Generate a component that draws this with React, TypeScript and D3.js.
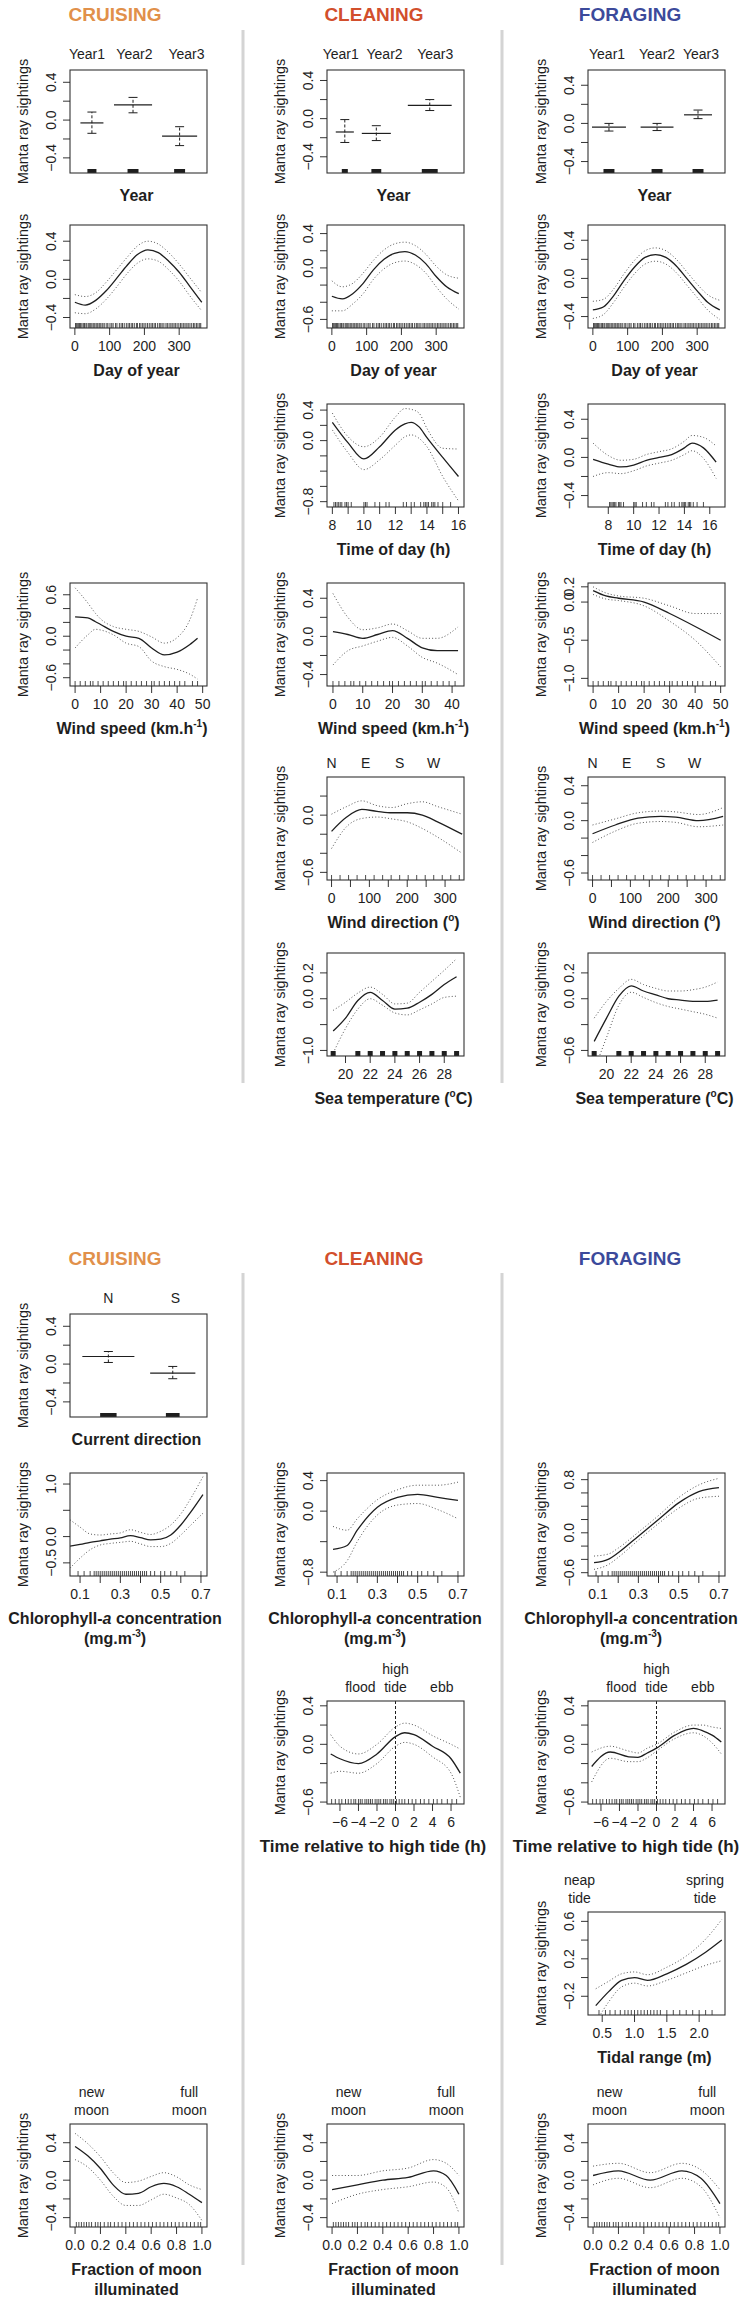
import React from "react";
import * as d3 from "d3";

type Row = [number, number, number, number]; // x, fit, lower, upper
type Seg = { t: string; i?: boolean; sup?: boolean };

// ---------------- layout constants ----------------
const FONT = "'Liberation Sans', Arial, Helvetica, sans-serif";
const COL_X = [70, 327, 588];
const BOX_W = 137;
const BOX_H = 103;

// ---------------- headers ----------------
const headers = ["CRUISING", "CLEANING", "FORAGING"];
const headerColors = ["#E1904A", "#D24F2C", "#3C4A9B"];
const headerX = [115, 374, 630];

// ---------------- factor data ----------------
// [centre, half width, fit, lower, upper, rug half width, label x]
const yearNames = ["Year1", "Year2", "Year3"];
const cruisingYear = [
  [0.16, 0.084, -0.03, -0.14, 0.085, 0.033, 0.124],
  [0.46, 0.139, 0.16, 0.077, 0.24, 0.04, 0.47],
  [0.8, 0.128, -0.17, -0.27, -0.07, 0.04, 0.85],
];
const cleaningYear = [
  [0.13, 0.066, -0.14, -0.25, -0.01, 0.022, 0.1],
  [0.36, 0.106, -0.155, -0.23, -0.074, 0.036, 0.42],
  [0.75, 0.16, 0.14, 0.085, 0.2, 0.058, 0.79],
];
const foragingYear = [
  [0.153, 0.124, -0.04, -0.08, 0.0, 0.04, 0.139],
  [0.504, 0.12, -0.04, -0.075, 0.0, 0.04, 0.504],
  [0.803, 0.102, 0.09, 0.05, 0.14, 0.04, 0.825],
];
const currentNames = ["N", "S"];
const cruisingCurrent = [
  [0.28, 0.19, 0.08, 0.017, 0.133, 0.06, 0.28],
  [0.75, 0.165, -0.095, -0.155, -0.025, 0.05, 0.77],
];

// ---------------- smooth data: [x, fit, lower, upper] ----------------
const dayCruising: Row[] = [
  [0, -0.24, -0.35, -0.16], [30, -0.27, -0.36, -0.18], [60, -0.22, -0.31, -0.14],
  [90, -0.12, -0.21, -0.03], [120, 0.01, -0.08, 0.1], [150, 0.145, 0.06, 0.23],
  [180, 0.26, 0.17, 0.35], [210, 0.31, 0.215, 0.4], [240, 0.28, 0.19, 0.37],
  [270, 0.19, 0.1, 0.28], [300, 0.075, -0.02, 0.16], [330, -0.07, -0.17, 0.02],
  [365, -0.24, -0.33, -0.14],
];
const dayCleaning: Row[] = [
  [0, -0.33, -0.5, -0.15], [30, -0.36, -0.5, -0.22], [60, -0.3, -0.42, -0.18],
  [90, -0.18, -0.3, -0.06], [120, -0.02, -0.13, 0.09], [150, 0.1, -0.01, 0.21],
  [180, 0.17, 0.06, 0.28], [210, 0.19, 0.08, 0.3], [240, 0.15, 0.04, 0.26],
  [270, 0.05, -0.06, 0.16], [300, -0.1, -0.22, 0.02], [330, -0.22, -0.36, -0.08],
  [365, -0.3, -0.48, -0.12],
];
const dayForaging: Row[] = [
  [0, -0.33, -0.42, -0.24], [30, -0.3, -0.38, -0.22], [60, -0.18, -0.25, -0.11],
  [90, -0.02, -0.09, 0.05], [120, 0.12, 0.05, 0.19], [150, 0.22, 0.15, 0.29],
  [180, 0.25, 0.18, 0.32], [210, 0.22, 0.15, 0.29], [240, 0.13, 0.06, 0.2],
  [270, 0.0, -0.07, 0.07], [300, -0.13, -0.2, -0.06], [330, -0.25, -0.33, -0.17],
  [365, -0.33, -0.43, -0.23],
];
const timeCleaning: Row[] = [
  [8, 0.24, 0.14, 0.36], [9, -0.03, -0.16, 0.05], [10, -0.24, -0.38, -0.08],
  [11, -0.08, -0.25, 0.045], [12, 0.14, -0.06, 0.31], [12.6, 0.22, 0.05, 0.42],
  [13, 0.24, 0.075, 0.41], [13.5, 0.18, 0.03, 0.36], [14, 0.04, -0.08, 0.16],
  [15, -0.22, -0.47, -0.1], [16, -0.47, -0.79, -0.11],
];
const timeForaging: Row[] = [
  [6.8, -0.02, -0.2, 0.15], [8, -0.07, -0.16, 0.02], [9, -0.1, -0.17, -0.03],
  [10, -0.08, -0.14, -0.02], [11, -0.03, -0.09, 0.03], [12, 0.0, -0.06, 0.06],
  [13, 0.03, -0.03, 0.09], [14, 0.1, 0.03, 0.17], [14.6, 0.15, 0.07, 0.23],
  [15.5, 0.1, -0.01, 0.21], [16.5, -0.05, -0.22, 0.12],
];
const windCruising: Row[] = [
  [0, 0.28, -0.17, 0.7], [5, 0.265, 0.02, 0.48], [8, 0.21, 0.1, 0.33],
  [10, 0.17, 0.09, 0.25], [15, 0.07, 0.02, 0.14], [20, 0.0, -0.1, 0.1],
  [25, -0.03, -0.15, 0.07], [30, -0.17, -0.36, -0.01], [35, -0.27, -0.44, -0.1],
  [40, -0.23, -0.48, -0.02], [45, -0.12, -0.55, 0.24], [48, -0.03, -0.62, 0.55],
];
const windCleaning: Row[] = [
  [0, 0.05, -0.3, 0.45], [5, 0.02, -0.15, 0.2], [10, -0.02, -0.1, 0.07],
  [15, 0.02, -0.05, 0.09], [20, 0.06, -0.01, 0.13], [25, -0.02, -0.1, 0.06],
  [30, -0.12, -0.22, -0.02], [35, -0.15, -0.28, -0.02], [42, -0.15, -0.4, 0.1],
];
const windForaging: Row[] = [
  [0, 0.15, 0.1, 0.2], [5, 0.08, 0.04, 0.12], [10, 0.05, 0.02, 0.08],
  [20, 0.0, -0.05, 0.05], [30, -0.15, -0.25, -0.05], [40, -0.32, -0.5, -0.15],
  [50, -0.5, -0.85, -0.15],
];
const dirCleaning: Row[] = [
  [0, -0.17, -0.35, 0.01], [40, -0.02, -0.12, 0.09], [80, 0.06, -0.035, 0.15],
  [120, 0.04, -0.02, 0.1], [160, 0.025, -0.04, 0.08], [200, 0.025, -0.07, 0.12],
  [240, 0.0, -0.14, 0.14], [280, -0.07, -0.23, 0.09], [345, -0.2, -0.4, 0.01],
];
const dirForaging: Row[] = [
  [0, -0.15, -0.25, -0.05], [60, -0.05, -0.12, 0.02], [120, 0.03, -0.03, 0.09],
  [180, 0.05, -0.01, 0.11], [220, 0.04, -0.02, 0.1], [280, 0.0, -0.07, 0.07],
  [345, 0.05, -0.05, 0.15],
];
const seaCleaning: Row[] = [
  [19, -0.25, -0.42, -0.09], [20, -0.15, -0.23, -0.027], [21, -0.013, -0.08, 0.044],
  [22, 0.05, 0.0, 0.09], [23, -0.013, -0.05, 0.034], [24, -0.08, -0.11, -0.04],
  [25, -0.073, -0.125, -0.034], [26, -0.027, -0.086, 0.05], [27, 0.034, -0.04, 0.135],
  [28, 0.11, 0.01, 0.22], [29, 0.17, 0.02, 0.31],
];
const seaForaging: Row[] = [
  [19, -0.33, -0.55, -0.15], [20, -0.15, -0.3, -0.02], [21, 0.02, -0.05, 0.08],
  [22, 0.1, 0.05, 0.15], [23, 0.06, 0.01, 0.11], [24, 0.03, -0.03, 0.08],
  [25, 0.0, -0.06, 0.06], [26, -0.01, -0.08, 0.06], [27, -0.02, -0.1, 0.07],
  [28, -0.02, -0.12, 0.09], [29, -0.01, -0.15, 0.13],
];
const chlCruising: Row[] = [
  [0.05, -0.18, -0.6, 0.32], [0.1, -0.15, -0.41, 0.18], [0.15, -0.11, -0.25, 0.05],
  [0.2, -0.08, -0.16, 0.03], [0.25, -0.05, -0.13, 0.05], [0.3, -0.025, -0.11, 0.07],
  [0.35, 0.02, -0.09, 0.13], [0.4, -0.02, -0.14, 0.08], [0.45, -0.063, -0.19, 0.04],
  [0.5, -0.05, -0.19, 0.1], [0.55, 0.03, -0.13, 0.22], [0.6, 0.22, 0.03, 0.43],
  [0.65, 0.47, 0.22, 0.73], [0.71, 0.8, 0.445, 1.14],
];
const chlCleaning: Row[] = [
  [0.08, -0.5, -0.8, -0.2], [0.15, -0.45, -0.65, -0.25], [0.2, -0.25, -0.4, -0.1],
  [0.3, 0.05, -0.05, 0.15], [0.4, 0.18, 0.08, 0.28], [0.5, 0.22, 0.1, 0.34],
  [0.6, 0.18, 0.02, 0.34], [0.7, 0.14, -0.1, 0.38],
];
const chlForaging: Row[] = [
  [0.08, -0.45, -0.55, -0.35], [0.15, -0.4, -0.48, -0.32], [0.2, -0.3, -0.37, -0.23],
  [0.3, -0.05, -0.11, 0.01], [0.4, 0.2, 0.14, 0.26], [0.5, 0.45, 0.37, 0.53],
  [0.6, 0.62, 0.52, 0.72], [0.7, 0.68, 0.55, 0.82],
];
const tideCleaning: Row[] = [
  [-7, -0.1, -0.3, 0.1], [-6, -0.15, -0.28, -0.02], [-4, -0.2, -0.3, -0.1],
  [-2, -0.1, -0.2, 0.0], [0, 0.08, -0.02, 0.18], [1, 0.12, 0.02, 0.22],
  [2, 0.1, 0.0, 0.2], [4, -0.02, -0.13, 0.09], [6, -0.15, -0.3, 0.0],
  [7, -0.3, -0.55, -0.05],
];
const tideForaging: Row[] = [
  [-7, -0.23, -0.39, -0.08], [-5, -0.08, -0.145, -0.02], [-3, -0.13, -0.18, -0.07],
  [-2, -0.135, -0.18, -0.09], [-1, -0.09, -0.14, -0.04], [0, -0.04, -0.07, 0.0],
  [2, 0.095, 0.06, 0.13], [4, 0.165, 0.12, 0.2], [5, 0.14, 0.09, 0.2],
  [6, 0.095, 0.015, 0.18], [7, 0.025, -0.1, 0.165],
];
const rangeForaging: Row[] = [
  [0.4, -0.3, -0.48, -0.12], [0.6, -0.15, -0.26, -0.04], [0.8, -0.03, -0.1, 0.04],
  [1.0, 0.0, -0.06, 0.06], [1.2, -0.03, -0.09, 0.03], [1.5, 0.04, -0.03, 0.11],
  [1.8, 0.14, 0.05, 0.23], [2.1, 0.27, 0.13, 0.41], [2.35, 0.4, 0.18, 0.62],
];
const moonCruising: Row[] = [
  [0, 0.36, 0.22, 0.5], [0.1, 0.26, 0.14, 0.39], [0.2, 0.125, 0.0, 0.25],
  [0.3, -0.05, -0.17, 0.08], [0.4, -0.15, -0.27, -0.025], [0.5, -0.14, -0.27, -0.01],
  [0.6, -0.07, -0.21, 0.04], [0.7, -0.035, -0.15, 0.08], [0.8, -0.07, -0.19, 0.036],
  [0.9, -0.15, -0.26, -0.05], [1.0, -0.24, -0.43, -0.1],
];
const moonCleaning: Row[] = [
  [0, -0.1, -0.25, 0.05], [0.2, -0.05, -0.15, 0.05], [0.4, 0.0, -0.1, 0.1],
  [0.6, 0.03, -0.07, 0.13], [0.8, 0.1, -0.02, 0.22], [0.9, 0.05, -0.08, 0.18],
  [1.0, -0.15, -0.35, 0.05],
];
const moonForaging: Row[] = [
  [0, 0.05, -0.05, 0.15], [0.2, 0.1, 0.02, 0.18], [0.45, 0.0, -0.08, 0.08],
  [0.7, 0.1, 0.02, 0.18], [0.85, 0.02, -0.07, 0.11], [1.0, -0.25, -0.4, -0.1],
];

// ---------------- rug data ----------------
const dayRug = [2, 4, 7, 11, 13, 16, 20, 24, 27, 29, 33, 38, 41, 44, 47, 52, 55, 58, 63, 66, 70, 73, 78, 81, 86, 92, 95, 101, 106, 110, 117, 121, 128, 133, 137, 142, 148, 153, 157, 162, 166, 171, 177, 180, 186, 190, 195, 199, 204, 209, 214, 219, 223, 228, 232, 238, 243, 247, 251, 256, 262, 266, 271, 276, 280, 285, 289, 294, 299, 304, 308, 313, 317, 322, 326, 331, 336, 341, 345, 350, 354, 359, 362];
const timeRug = [8.1, 8.2, 8.3, 8.4, 8.5, 8.6, 8.8, 8.9, 9.0, 9.2, 10.0, 10.1, 10.2, 10.7, 11.0, 11.4, 11.6, 12.5, 12.7, 13.0, 13.2, 13.6, 13.8, 13.9, 14.0, 14.1, 14.3, 14.4, 14.5, 14.7, 15.0, 15.5];
const windRug = [0, 2, 4, 6, 7, 9, 11, 13, 15, 17, 19, 20, 22, 24, 26, 28, 30, 31, 33, 35, 37, 39, 41, 43, 46, 48];
const dirRug = [0, 22.5, 45, 67.5, 90, 112.5, 135, 157.5, 180, 202.5, 225, 247.5, 270, 292.5, 315, 337.5];
const seaRug = [19, 21, 22, 23, 24, 25, 26, 27, 28, 29];
const chlRug = [0.09, 0.12, 0.15, 0.17, 0.18, 0.19, 0.2, 0.21, 0.22, 0.23, 0.24, 0.25, 0.26, 0.27, 0.28, 0.29, 0.3, 0.31, 0.32, 0.33, 0.34, 0.35, 0.36, 0.37, 0.38, 0.39, 0.4, 0.41, 0.42, 0.43, 0.45, 0.47, 0.5, 0.52, 0.55, 0.58, 0.62, 0.7];
const tideRug = [-6.9, -6.5, -6.1, -5.8, -5.4, -5.1, -4.8, -4.5, -4.3, -4.0, -3.8, -3.6, -3.3, -3.1, -2.9, -2.7, -2.5, -2.2, -2.0, -1.8, -1.6, -1.3, -1.1, -0.9, -0.6, -0.4, -0.2, 0.1, 0.4, 0.7, 1.0, 1.4, 1.8, 2.2, 2.7, 3.1, 3.6, 4.1, 4.5, 5.0, 5.6, 6.1, 6.6];
const rangeRug = [0.45, 0.55, 0.62, 0.7, 0.78, 0.85, 0.9, 0.95, 1.0, 1.05, 1.1, 1.15, 1.2, 1.25, 1.3, 1.35, 1.4, 1.5, 1.6, 1.7, 1.8, 1.9, 2.0, 2.1, 2.2];
const moonRug = [0.01, 0.03, 0.05, 0.07, 0.09, 0.11, 0.13, 0.16, 0.18, 0.2, 0.23, 0.26, 0.28, 0.31, 0.34, 0.37, 0.4, 0.43, 0.46, 0.49, 0.52, 0.55, 0.58, 0.61, 0.64, 0.67, 0.7, 0.73, 0.76, 0.79, 0.82, 0.85, 0.88, 0.91, 0.94, 0.97, 0.99];

// ---------------- tick sets ----------------
const MN = "\u2212";
const ticks04: number[] = [-0.4, -0.2, 0, 0.2, 0.4];
const labels04: [number, string][] = [[-0.4, MN + "0.4"], [0, "0.0"], [0.4, "0.4"]];
const dayTicks = [0, 100, 200, 300];
const moonTicks = [0, 0.2, 0.4, 0.6, 0.8, 1.0];
const chlTicks = [0.1, 0.2, 0.3, 0.4, 0.5, 0.6, 0.7];
const chlLabels = [0.1, 0.3, 0.5, 0.7];
const tideTicks = [-6, -4, -2, 0, 2, 4, 6];
const seaTicks = [-0.4, -0.2, 0, 0.2];

// ---------------- titles ----------------
const T = (t: string): Seg[] => [{ t }];
const titleWind: Seg[] = [{ t: "Wind speed (km.h" }, { t: "-1", sup: true }, { t: ")" }];
const titleDir: Seg[] = [{ t: "Wind direction (" }, { t: "o", sup: true }, { t: ")" }];
const titleSea: Seg[] = [{ t: "Sea temperature (" }, { t: "o", sup: true }, { t: "C)" }];
const titleChl1: Seg[] = [{ t: "Chlorophyll-" }, { t: "a", i: true }, { t: " concentration" }];
const titleChl2: Seg[] = [{ t: "(mg.m" }, { t: "-3", sup: true }, { t: ")" }];

type TopLabel = { x: number; lines: string[] };
type Smooth = {
  kind: "smooth"; col: number; top: number;
  xd: [number, number]; yd: [number, number];
  xt: number[]; xl: [number, string][]; yt: number[]; yl: [number, string][];
  fit: Row[]; rug: number[]; block?: boolean;
  title: Seg[][]; tl?: TopLabel[]; vline?: number; tcx?: number; tfs?: number;
};
type Factor = {
  kind: "factor"; col: number; top: number; yd: [number, number];
  yt: number[]; yl: [number, string][]; names: string[]; lv: number[][]; title: Seg[][];
};
type Panel = Smooth | Factor;

const labs = (vals: number[], fmt: (v: number) => string): [number, string][] =>
  vals.map((v) => [v, fmt(v).replace("-", MN)]);

const dirTop: TopLabel[] = [{ x: 0, lines: ["N"] }, { x: 90, lines: ["E"] }, { x: 180, lines: ["S"] }, { x: 270, lines: ["W"] }];
const moonTop: TopLabel[] = [{ x: 0.13, lines: ["new", "moon"] }, { x: 0.9, lines: ["full", "moon"] }];
const tideTop: TopLabel[] = [{ x: -3.8, lines: ["flood"] }, { x: 0, lines: ["high", "tide"] }, { x: 5, lines: ["ebb"] }];
const rangeTop: TopLabel[] = [{ x: 0.15, lines: ["neap", "tide"] }, { x: 2.09, lines: ["spring", "tide"] }];

const R1 = 70, R2 = 225, R3 = 404, R4 = 583, R5 = 777, R6 = 953;
const B1 = 1314, B2 = 1473, B3 = 1701, B4 = 1912, B5 = 2124;

const f1 = (v: number) => v.toFixed(1);
const f0 = (v: number) => String(v);

const panels: Panel[] = [
  { kind: "factor", col: 0, top: R1, yd: [-0.56, 0.53], yt: ticks04, yl: labels04, names: yearNames, lv: cruisingYear, title: [T("Year")] },
  { kind: "factor", col: 1, top: R1, yd: [-0.57, 0.51], yt: ticks04, yl: labels04, names: yearNames, lv: cleaningYear, title: [T("Year")] },
  { kind: "factor", col: 2, top: R1, yd: [-0.52, 0.56], yt: ticks04, yl: labels04, names: yearNames, lv: foragingYear, title: [T("Year")] },
  { kind: "smooth", col: 0, top: R2, xd: [-14, 380], yd: [-0.51, 0.57], xt: dayTicks, xl: labs(dayTicks, f0), yt: ticks04, yl: labels04, fit: dayCruising, rug: dayRug, title: [T("Day of year")] },
  { kind: "smooth", col: 1, top: R2, xd: [-14, 380], yd: [-0.7, 0.5], xt: dayTicks, xl: labs(dayTicks, f0), yt: [-0.6, -0.4, -0.2, 0, 0.2, 0.4], yl: labs([-0.6, 0, 0.4], f1), fit: dayCleaning, rug: dayRug, title: [T("Day of year")] },
  { kind: "smooth", col: 2, top: R2, xd: [-14, 380], yd: [-0.52, 0.56], xt: dayTicks, xl: labs(dayTicks, f0), yt: ticks04, yl: labels04, fit: dayForaging, rug: dayRug, title: [T("Day of year")] },
  { kind: "smooth", col: 1, top: R3, xd: [7.66, 16.35], yd: [-0.87, 0.48], xt: [8, 9, 10, 11, 12, 13, 14, 15, 16], xl: labs([8, 10, 12, 14, 16], f0), yt: [-0.8, -0.6, -0.4, -0.2, 0, 0.2, 0.4], yl: labs([-0.8, 0, 0.4], f1), fit: timeCleaning, rug: timeRug, title: [T("Time of day (h)")] },
  { kind: "smooth", col: 2, top: R3, xd: [6.4, 17.2], yd: [-0.52, 0.56], xt: [8, 10, 12, 14, 16], xl: labs([8, 10, 12, 14, 16], f0), yt: ticks04, yl: labels04, fit: timeForaging, rug: timeRug, title: [T("Time of day (h)")] },
  { kind: "smooth", col: 0, top: R4, xd: [-2, 51.7], yd: [-0.72, 0.77], xt: [0, 10, 20, 30, 40, 50], xl: labs([0, 10, 20, 30, 40, 50], f0), yt: [-0.6, -0.4, -0.2, 0, 0.2, 0.4, 0.6], yl: labs([-0.6, 0, 0.6], f1), fit: windCruising, rug: windRug, title: [titleWind], tcx: 132 },
  { kind: "smooth", col: 1, top: R4, xd: [-2, 44], yd: [-0.52, 0.56], xt: [0, 10, 20, 30, 40], xl: labs([0, 10, 20, 30, 40], f0), yt: ticks04, yl: labels04, fit: windCleaning, rug: windRug.slice(0, 23), title: [titleWind] },
  { kind: "smooth", col: 2, top: R4, xd: [-2, 51.7], yd: [-1.1, 0.25], xt: [0, 10, 20, 30, 40, 50], xl: labs([0, 10, 20, 30, 40, 50], f0), yt: [-1, -0.5, 0, 0.2], yl: labs([-1, -0.5, 0, 0.2], f1), fit: windForaging, rug: windRug, title: [titleWind] },
  { kind: "smooth", col: 1, top: R5, xd: [-12, 350], yd: [-0.68, 0.4], xt: [0, 50, 100, 150, 200, 250, 300], xl: labs([0, 100, 200, 300], f0), yt: [-0.6, -0.4, -0.2, 0, 0.2], yl: labs([-0.6, 0], f1), fit: dirCleaning, rug: dirRug, title: [titleDir], tl: dirTop },
  { kind: "smooth", col: 2, top: R5, xd: [-12, 350], yd: [-0.68, 0.5], xt: [0, 50, 100, 150, 200, 250, 300], xl: labs([0, 100, 200, 300], f0), yt: [-0.6, -0.4, -0.2, 0, 0.2, 0.4], yl: labs([-0.6, 0, 0.4], f1), fit: dirForaging, rug: dirRug, title: [titleDir], tl: dirTop },
  { kind: "smooth", col: 1, top: R6, xd: [18.5, 29.6], yd: [-0.443, 0.354], xt: [20, 22, 24, 26, 28], xl: labs([20, 22, 24, 26, 28], f0), yt: seaTicks, yl: [[-0.4, MN + "1.0"], [0, "0.0"], [0.2, "0.2"]], fit: seaCleaning, rug: seaRug, block: true, title: [titleSea] },
  { kind: "smooth", col: 2, top: R6, xd: [18.5, 29.6], yd: [-0.443, 0.354], xt: [20, 22, 24, 26, 28], xl: labs([20, 22, 24, 26, 28], f0), yt: seaTicks, yl: [[-0.4, MN + "0.6"], [0, "0.0"], [0.2, "0.2"]], fit: seaForaging, rug: seaRug, block: true, title: [titleSea] },
  { kind: "factor", col: 0, top: B1, yd: [-0.56, 0.53], yt: ticks04, yl: labels04, names: currentNames, lv: cruisingCurrent, title: [T("Current direction")] },
  { kind: "smooth", col: 0, top: B2, xd: [0.05, 0.73], yd: [-0.75, 1.21], xt: chlTicks, xl: labs(chlLabels, f1), yt: [-0.5, 0, 0.5, 1], yl: labs([-0.5, 0, 1], f1), fit: chlCruising, rug: chlRug, title: [titleChl1, titleChl2], tcx: 115 },
  { kind: "smooth", col: 1, top: B2, xd: [0.05, 0.73], yd: [-0.85, 0.5], xt: chlTicks, xl: labs(chlLabels, f1), yt: [-0.8, -0.4, 0, 0.4], yl: labs([-0.8, 0, 0.4], f1), fit: chlCleaning, rug: chlRug, title: [titleChl1, titleChl2], tcx: 375 },
  { kind: "smooth", col: 2, top: B2, xd: [0.05, 0.73], yd: [-0.65, 0.9], xt: chlTicks, xl: labs(chlLabels, f1), yt: [-0.6, -0.4, -0.2, 0, 0.2, 0.4, 0.6, 0.8], yl: labs([-0.6, 0, 0.8], f1), fit: chlForaging, rug: chlRug, title: [titleChl1, titleChl2], tcx: 631 },
  { kind: "smooth", col: 1, top: B3, xd: [-7.4, 7.4], yd: [-0.62, 0.45], xt: tideTicks, xl: labs(tideTicks, f0), yt: [-0.6, -0.4, -0.2, 0, 0.2, 0.4], yl: labs([-0.6, 0, 0.4], f1), fit: tideCleaning, rug: tideRug, title: [T("Time relative to high tide (h)")], tl: tideTop, vline: 0, tcx: 373, tfs: 17 },
  { kind: "smooth", col: 2, top: B3, xd: [-7.4, 7.4], yd: [-0.62, 0.45], xt: tideTicks, xl: labs(tideTicks, f0), yt: [-0.6, -0.4, -0.2, 0, 0.2, 0.4], yl: labs([-0.6, 0, 0.4], f1), fit: tideForaging, rug: tideRug, title: [T("Time relative to high tide (h)")], tl: tideTop, vline: 0, tcx: 626, tfs: 17 },
  { kind: "smooth", col: 2, top: B4, xd: [0.28, 2.4], yd: [-0.4, 0.7], xt: [0.5, 1.0, 1.5, 2.0], xl: labs([0.5, 1.0, 1.5, 2.0], f1), yt: [-0.2, 0, 0.2, 0.4, 0.6], yl: labs([-0.2, 0.2, 0.6], f1), fit: rangeForaging, rug: rangeRug, title: [T("Tidal range (m)")], tl: rangeTop },
  { kind: "smooth", col: 0, top: B5, xd: [-0.04, 1.04], yd: [-0.5, 0.6], xt: moonTicks, xl: labs(moonTicks, f1), yt: ticks04, yl: labels04, fit: moonCruising, rug: moonRug, title: [T("Fraction of moon"), T("illuminated")], tl: moonTop },
  { kind: "smooth", col: 1, top: B5, xd: [-0.04, 1.04], yd: [-0.5, 0.6], xt: moonTicks, xl: labs(moonTicks, f1), yt: ticks04, yl: labels04, fit: moonCleaning, rug: moonRug, title: [T("Fraction of moon"), T("illuminated")], tl: moonTop },
  { kind: "smooth", col: 2, top: B5, xd: [-0.04, 1.04], yd: [-0.5, 0.6], xt: moonTicks, xl: labs(moonTicks, f1), yt: ticks04, yl: labels04, fit: moonForaging, rug: moonRug, title: [T("Fraction of moon"), T("illuminated")], tl: moonTop },
];

// ---------------- rendering ----------------
const INK = "#1e1e1e";

function Title({ lines, cx, y, fs = 16 }: { lines: Seg[][]; cx: number; y: number; fs?: number }) {
  return (
    <g>
      {lines.map((segs, li) => (
        <text key={li} x={cx} y={y + li * 20} textAnchor="middle" fontSize={fs} fontWeight="bold" fill={INK}>
          {segs.map((s, si) =>
            s.sup ? (
              <tspan key={si} fontSize={10} dy={-7}>{s.t}</tspan>
            ) : (
              <tspan key={si} fontStyle={s.i ? "italic" : "normal"} dy={si > 0 && segs[si - 1].sup ? 7 : 0}>{s.t}</tspan>
            )
          )}
        </text>
      ))}
    </g>
  );
}

function YAxis({ x0, y, yt, yl, top }: { x0: number; y: d3.ScaleLinear<number, number>; yt: number[]; yl: [number, string][]; top: number }) {
  return (
    <g>
      {yt.map((v, i) => (
        <line key={i} x1={x0 - 7} x2={x0} y1={y(v)} y2={y(v)} stroke={INK} strokeWidth={0.9} />
      ))}
      {yl.map(([v, s], i) => (
        <text key={i} transform={`translate(${x0 - 14},${y(v)}) rotate(-90)`} textAnchor="middle" fontSize={14} fill={INK}>{s}</text>
      ))}
      <text transform={`translate(${x0 - 42},${top + BOX_H / 2}) rotate(-90)`} textAnchor="middle" fontSize={14.5} fill={INK}>Manta ray sightings</text>
    </g>
  );
}

function TopLabels({ tl, x, top }: { tl: TopLabel[]; x: (v: number) => number; top: number }) {
  return (
    <g>
      {tl.map((t, i) =>
        t.lines.map((s, j) => (
          <text key={`${i}-${j}`} x={x(t.x)} y={top - 9 - (t.lines.length - 1 - j) * 18} textAnchor="middle" fontSize={14} fill={INK}>{s}</text>
        ))
      )}
    </g>
  );
}

function SmoothPanel({ p, id }: { p: Smooth; id: number }) {
  const x0 = COL_X[p.col];
  const x = d3.scaleLinear().domain(p.xd).range([x0, x0 + BOX_W]);
  const y = d3.scaleLinear().domain(p.yd).range([p.top + BOX_H, p.top]);
  const mk = (k: number) => d3.line<Row>().x((d) => x(d[0])).y((d) => y(d[k])).curve(d3.curveMonotoneX)(p.fit) || "";
  const bottom = p.top + BOX_H;
  const cid = `clip${id}`;
  return (
    <g>
      <clipPath id={cid}>
        <rect x={x0} y={p.top} width={BOX_W} height={BOX_H} />
      </clipPath>
      <g clipPath={`url(#${cid})`}>
        {p.vline !== undefined && (
          <line x1={x(p.vline)} x2={x(p.vline)} y1={p.top} y2={bottom} stroke={INK} strokeWidth={1} strokeDasharray="3 2" />
        )}
        <path d={mk(2)} fill="none" stroke="#555" strokeWidth={1} strokeDasharray="1 2.2" />
        <path d={mk(3)} fill="none" stroke="#555" strokeWidth={1} strokeDasharray="1 2.2" />
        <path d={mk(1)} fill="none" stroke={INK} strokeWidth={1.3} />
        {p.rug.map((v, i) =>
          p.block ? (
            <rect key={i} x={x(v) - 2.5} y={bottom - 5} width={5} height={5} fill={INK} />
          ) : (
            <line key={i} x1={x(v)} x2={x(v)} y1={bottom} y2={bottom - 5} stroke={INK} strokeWidth={0.8} />
          )
        )}
      </g>
      <rect x={x0} y={p.top} width={BOX_W} height={BOX_H} fill="none" stroke="#333" strokeWidth={1.1} />
      {p.xt.map((v, i) => (
        <line key={i} x1={x(v)} x2={x(v)} y1={bottom} y2={bottom + 7} stroke={INK} strokeWidth={0.9} />
      ))}
      {p.xl.map(([v, s], i) => (
        <text key={i} x={x(v)} y={bottom + 23} textAnchor="middle" fontSize={14} fill={INK}>{s}</text>
      ))}
      <YAxis x0={x0} y={y} yt={p.yt} yl={p.yl} top={p.top} />
      {p.tl && <TopLabels tl={p.tl} x={x} top={p.top} />}
      <Title lines={p.title} cx={p.tcx ?? x0 + BOX_W / 2 - 2} y={bottom + 48} fs={p.tfs} />
    </g>
  );
}

function FactorPanel({ p }: { p: Factor }) {
  const x0 = COL_X[p.col];
  const x = d3.scaleLinear().domain([0, 1]).range([x0, x0 + BOX_W]);
  const y = d3.scaleLinear().domain(p.yd).range([p.top + BOX_H, p.top]);
  const bottom = p.top + BOX_H;
  return (
    <g>
      {p.lv.map((l, i) => {
        const [c, h, fit, lo, hi, rh, lx] = l;
        return (
          <g key={i}>
            <line x1={x(c - h)} x2={x(c + h)} y1={y(fit)} y2={y(fit)} stroke={INK} strokeWidth={1.2} />
            <line x1={x(c)} x2={x(c)} y1={y(lo)} y2={y(hi)} stroke={INK} strokeWidth={1} strokeDasharray="3 2" />
            <line x1={x(c) - 4.5} x2={x(c) + 4.5} y1={y(lo)} y2={y(lo)} stroke={INK} strokeWidth={1} />
            <line x1={x(c) - 4.5} x2={x(c) + 4.5} y1={y(hi)} y2={y(hi)} stroke={INK} strokeWidth={1} />
            <rect x={x(c - rh)} y={bottom - 4} width={x(c + rh) - x(c - rh)} height={4} fill={INK} />
            <text x={x(lx)} y={p.top - 11} textAnchor="middle" fontSize={14} fill={INK}>{p.names[i]}</text>
          </g>
        );
      })}
      <rect x={x0} y={p.top} width={BOX_W} height={BOX_H} fill="none" stroke="#333" strokeWidth={1.1} />
      <YAxis x0={x0} y={y} yt={p.yt} yl={p.yl} top={p.top} />
      <Title lines={p.title} cx={x0 + BOX_W / 2 - 2} y={bottom + 28} />
    </g>
  );
}

const dividerX = [243, 502];
const sections = [
  { header: 21, lineTop: 30, lineBottom: 1083 },
  { header: 1265, lineTop: 1273, lineBottom: 2265 },
];

export default function App() {
  return (
    <svg
      width={745}
      height={2303}
      style={{ position: "absolute", left: 0, top: 0, background: "#fff" }}
      fontFamily={FONT}
    >
      <rect x={0} y={0} width={745} height={2303} fill="#fff" />
      {sections.map((s, si) => (
        <g key={si}>
          {dividerX.map((dx, i) => (
            <line key={i} x1={dx} x2={dx} y1={s.lineTop} y2={s.lineBottom} stroke="#d4d4d4" strokeWidth={3} />
          ))}
          {headers.map((h, i) => (
            <text key={h} x={headerX[i]} y={s.header} textAnchor="middle" fontSize={19} fontWeight="bold" fill={headerColors[i]}>{h}</text>
          ))}
        </g>
      ))}
      {panels.map((p, i) =>
        p.kind === "smooth" ? <SmoothPanel key={i} p={p} id={i} /> : <FactorPanel key={i} p={p} />
      )}
    </svg>
  );
}
